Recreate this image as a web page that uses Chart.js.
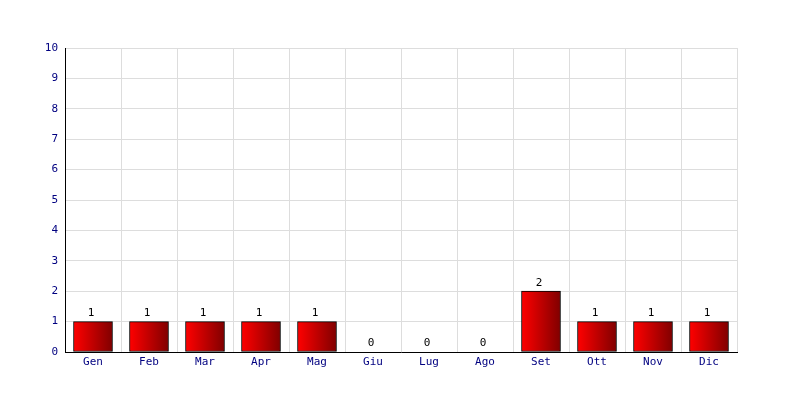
<!DOCTYPE html>
<html><head><meta charset="utf-8">
<script src="https://cdn.jsdelivr.net/npm/chart.js@4"></script>
<style>html,body{margin:0;padding:0;background:#fff}#w{width:800px;height:400px}</style>
</head><body><div id="w"><canvas id="c" width="800" height="400"></canvas></div>
<script>
const categories = ["Gen","Feb","Mar","Apr","Mag","Giu","Lug","Ago","Set","Ott","Nov","Dic"];
const values = [1,1,1,1,1,0,0,0,2,1,1,1];
const yTicks = [0,1,2,3,4,5,6,7,8,9,10];
const FONT = "'DejaVu Sans Mono', monospace";
const BAR_W = 39;

function gradFor(ctx){
  const chart = ctx.chart;
  const xs = chart.scales.x;
  if (!xs || ctx.dataIndex === undefined) return '#d00000';
  const cx = xs.getPixelForValue(ctx.dataIndex);
  const w = BAR_W;
  if (!isFinite(cx)) return '#d00000';
  const g = chart.ctx.createLinearGradient(cx - w/2, 0, cx + w/2, 0);
  g.addColorStop(0, '#ff0000');
  g.addColorStop(1, '#800000');
  return g;
}

const labelPlugin = {
  id: 'vals',
  afterDatasetsDraw(chart){
    const c = chart.ctx;
    const meta = chart.getDatasetMeta(0);
    c.save();
    c.font = "11px " + FONT;
    c.fillStyle = '#000';
    c.textAlign = 'center';
    c.textBaseline = 'bottom';
    meta.data.forEach((el, i) => {
      c.fillText(String(values[i]), el.x - 2, el.y - 3);
    });
    c.restore();
  }
};

new Chart(document.getElementById('c'), {
  type: 'bar',
  data: { labels: categories, datasets: [{
    data: values,
    backgroundColor: gradFor,
    borderColor: '#000',
    borderWidth: 1,
    borderSkipped: false,
    categoryPercentage: 1,
    barThickness: BAR_W
  }]},
  options: {
    responsive: false,
    animation: false,
    layout: { padding: { top: 48, right: 63, left: 0, bottom: 0 } },
    plugins: { legend: { display: false }, tooltip: { enabled: false } },
    scales: {
      x: {
        grid: { color: '#dddddd', offset: true, tickLength: 0, drawTicks: false },
        border: { color: '#000', width: 1 },
        ticks: { color: '#000080', font: { family: FONT, size: 11 }, padding: 4, maxRotation: 0 },
        afterFit(s){ s.height = 48; }
      },
      y: {
        min: 0, max: 10,
        afterBuildTicks(s){ s.ticks = yTicks.map(v => ({ value: v })); },
        grid: { color: '#dddddd', tickLength: 0, drawTicks: false },
        border: { color: '#000', width: 1 },
        ticks: { color: '#000080', font: { family: FONT, size: 11 }, padding: 7 },
        afterFit(s){ s.width = 65; }
      }
    }
  },
  plugins: [labelPlugin]
});
</script>
</body></html>
